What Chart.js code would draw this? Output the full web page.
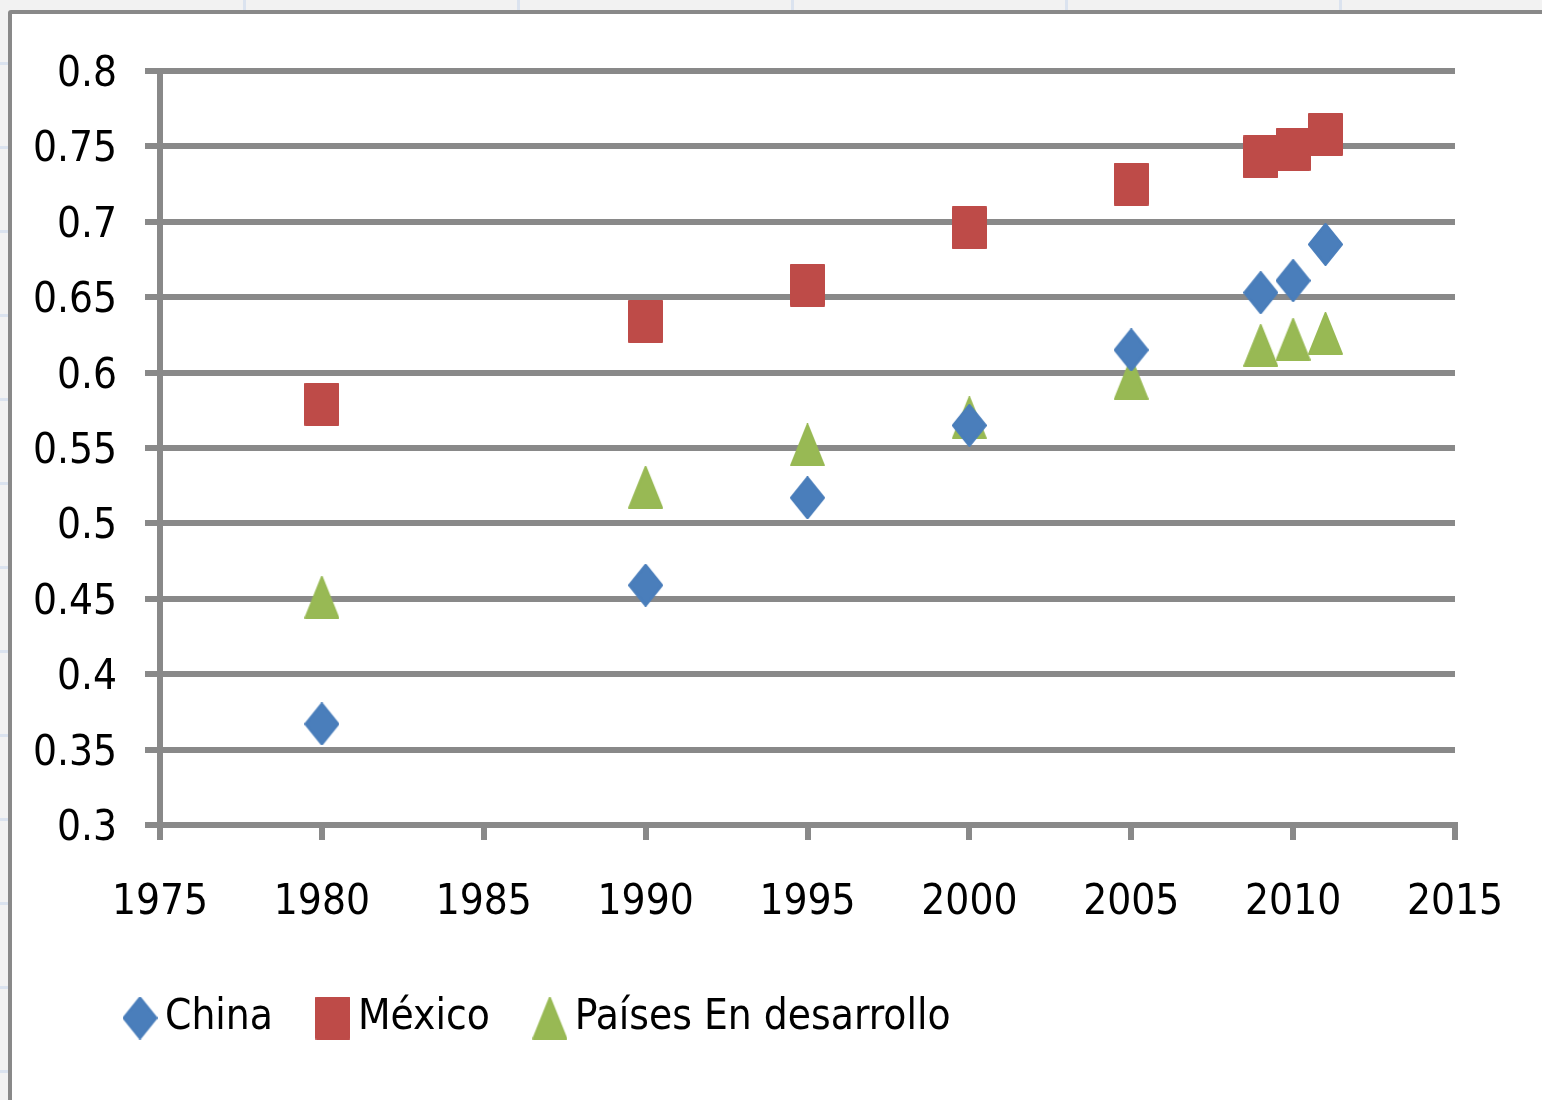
<!DOCTYPE html>
<html>
<head>
<meta charset="utf-8">
<script src="https://cdn.jsdelivr.net/npm/chart.js@4.4.1/dist/chart.umd.min.js"></script>
<style>
  html, body { margin: 0; padding: 0; width: 1542px; height: 1100px; overflow: hidden; }
  body {
    background-color: #f2f2f2;
    background-image:
      repeating-linear-gradient(90deg, transparent 0 243px, #dbe3ef 243px 246px, transparent 246px 274px),
      repeating-linear-gradient(180deg, transparent 0 62px, #dbe3ef 62px 65px, transparent 65px 84px);
  }
  #frame {
    position: absolute; left: 8px; top: 10px; width: 1600px; height: 1200px;
    background: #fff; border: 4px solid #898989; border-radius: 3px;
  }
  #wrap { position: absolute; left: 0; top: 0; width: 1542px; height: 1100px; }
</style>
</head>
<body>
<div id="frame"></div>
<div id="wrap"><canvas id="chart" width="1542" height="1100"></canvas></div>
<script>
// values
const years = [1980, 1990, 1995, 2000, 2005, 2009, 2010, 2011];
const china = [0.367, 0.459, 0.517, 0.565, 0.615, 0.653, 0.661, 0.685];
const mexico = [0.579, 0.634, 0.658, 0.696, 0.725, 0.743, 0.748, 0.758];
const paises = [0.451, 0.524, 0.552, 0.570, 0.596, 0.618, 0.622, 0.626];
const seriesNames = ['China', 'México', 'Países En desarrollo'];
const seriesColors = ['#4a7ebb', '#be4b48', '#98b954'];

const FONT = { family: "'Liberation Sans Narrow', 'DejaVu Sans Condensed', 'Noto Sans', sans-serif", size: 42 };
const GRID = '#898989';

// excel-like markers (taller than wide)
function marker(shape, w, h, color) {
  const c = document.createElement('canvas');
  c.width = w; c.height = h;
  const g = c.getContext('2d');
  g.fillStyle = color;
  g.strokeStyle = color;
  g.lineJoin = 'round';
  g.lineWidth = 2;
  g.beginPath();
  if (shape === 'diamond') {
    g.moveTo(w / 2, 1); g.lineTo(w - 1, h / 2); g.lineTo(w / 2, h - 1); g.lineTo(1, h / 2);
  } else if (shape === 'square') {
    g.rect(1, 1, w - 2, h - 2);
  } else {
    g.moveTo(w / 2, 1); g.lineTo(w - 1, h - 1); g.lineTo(1, h - 1);
  }
  g.closePath();
  g.fill();
  g.stroke();
  return c;
}

const shapes = ['diamond', 'square', 'triangle'];
const markers = shapes.map((s, i) => marker(s, 35, 43, seriesColors[i]));

const pts = arr => years.map((x, i) => ({ x: x, y: arr[i] }));
const allValues = [china, mexico, paises];

// push the legend row to the right, like the excel legend
const legendShift = {
  id: 'legendShift',
  afterLayout(chart) {
    chart.legend.left += 80;
  }
};

new Chart(document.getElementById('chart'), {
  type: 'scatter',
  data: {
    datasets: allValues.map((vals, i) => ({
      label: seriesNames[i],
      data: pts(vals),
      pointStyle: markers[i],
      backgroundColor: seriesColors[i],
      borderColor: seriesColors[i]
    }))
  },
  options: {
    responsive: false,
    animation: false,
    layout: { padding: { left: 0, right: 87, top: 71, bottom: 51 } },
    scales: {
      x: {
        type: 'linear',
        min: 1975,
        max: 2015,
        ticks: { stepSize: 5, padding: 38, color: '#000', font: FONT, maxRotation: 0, callback: v => String(v) },
        grid: { drawOnChartArea: false, drawTicks: true, tickLength: 15, color: GRID, lineWidth: 6 },
        border: { color: GRID, width: 6 },
        afterFit: s => { s.height = 116; }
      },
      y: {
        min: 0.3,
        max: 0.8,
        ticks: { stepSize: 0.05, padding: 28, labelOffset: 4, color: '#000', font: FONT, callback: v => String(parseFloat(v.toFixed(2))) },
        grid: { color: GRID, lineWidth: 6, tickLength: 15 },
        border: { color: GRID, width: 6 },
        afterFit: s => { s.width = 160; }
      }
    },
    plugins: {
      tooltip: { enabled: false },
      legend: {
        position: 'bottom',
        align: 'start',
        labels: {
          usePointStyle: true,
          pointStyleWidth: 8,
          padding: 56,
          color: '#000',
          font: FONT,
          generateLabels: chart => chart.data.datasets.map((d, i) => ({
            text: d.label,
            pointStyle: markers[i],
            fillStyle: seriesColors[i],
            strokeStyle: seriesColors[i],
            lineWidth: 0,
            hidden: false,
            datasetIndex: i,
            fontColor: '#000'
          }))
        }
      }
    }
  },
  plugins: [legendShift]
});
</script>
</body>
</html>
